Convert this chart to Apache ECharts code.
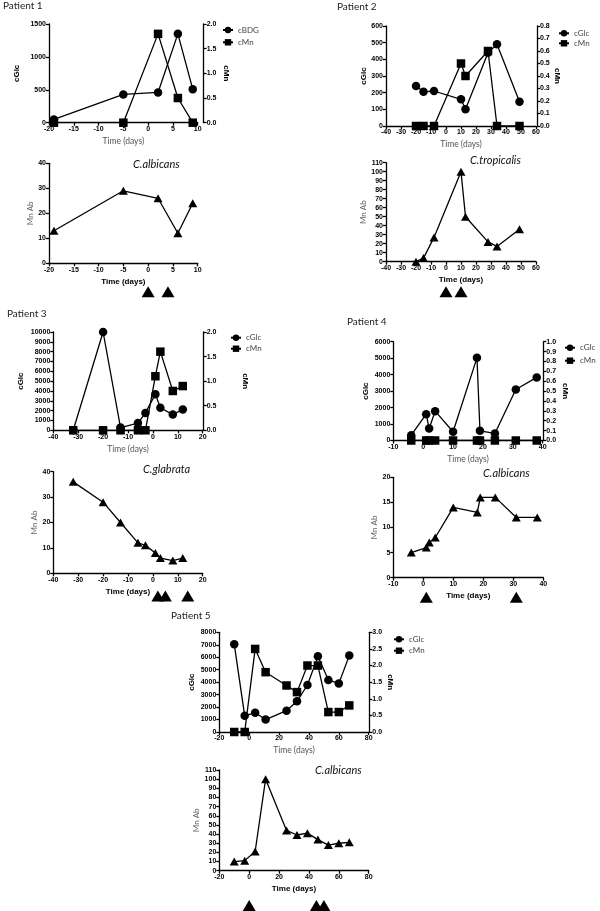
<!DOCTYPE html>
<html>
<head>
<meta charset="utf-8">
<script src="https://cdn.jsdelivr.net/npm/echarts@6/dist/echarts.min.js"></script>
<style>
  html, body { margin: 0; padding: 0; background: #fff; }
  #chart { width: 600px; height: 911px; }
</style>
</head>
<body>
<div id="chart"></div>
<script>
// days of sampling, serum values and antibody titres per patient
const p1Days = [-19, -5, 2, 6, 9];
const p1Glc = [50, 430, 460, 1350, 510];
const p1Mn = [0, 0, 1.8, 0.5, 0];
const p1Ab = [13, 29, 26, 12, 24];
const p1Tx = [0, 4];

const p2Days = [-20, -15, -8, 10, 13, 28, 34, 49];
const p2Glc = [240, 205, 210, 160, 100, 440, 490, 145];
const p2Mn = [0, 0, 0, 0.5, 0.4, 0.6, 0, 0];
const p2Ab = [0, 4, 27, 100, 50, 22, 17, 36];
const p2Tx = [0, 10];

const p3Days = [-32, -20, -13, -6, -3, 1, 3, 8, 12];
const p3Glc = [0, 10000, 280, 730, 1770, 3680, 2290, 1600, 2120];
const p3Mn = [0, 0, 0, 0, 0, 1.1, 1.6, 0.8, 0.9];
const p3Ab = [36, 28, 20, 12, 11, 8, 6, 5, 6];
const p3Tx = [2, 5, 14];

const p4Days = [-4, 1, 2, 4, 10, 18, 19, 24, 31, 38];
const p4Glc = [320, 1600, 730, 1780, 530, 5020, 590, 430, 3100, 3830];
const p4Mn = [0, 0, 0, 0, 0, 0, 0, 0, 0, 0];
const p4Ab = [5, 6, 7, 8, 14, 13, 16, 16, 12, 12];
const p4Tx = [1, 31];

const p5Days = [-10, -3, 4, 11, 25, 32, 39, 46, 53, 60, 67];
const p5Glc = [7050, 1300, 1550, 1000, 1710, 2460, 3770, 6070, 4170, 3900, 6130];
const p5Mn = [0, 0, 2.5, 1.8, 1.4, 1.2, 2.0, 2.0, 0.6, 0.6, 0.8];
const p5Ab = [10, 11, 21, 100, 44, 39, 41, 34, 28, 30, 31];
const p5Tx = [0, 45, 50];

const chart = echarts.init(document.getElementById("chart"));

const option = {
  animation: false,
  grid: [], xAxis: [], yAxis: [], series: [], legend: [], graphic: []
};

const tickFont = {fontSize: 7, fontWeight: "bold", color: "#000", fontFamily: "Liberation Sans"};
const axLine = {lineStyle: {color: "#000", width: 1.3}};
const axTick = {length: 3, lineStyle: {color: "#000", width: 1.3}};
const boldName = {fontSize: 8, fontWeight: "bold", color: "#000", fontFamily: "Liberation Sans"};
const greyName = {fontSize: 8.5, color: "#555", fontFamily: "Lato"};

function pairs(xs, ys) {
  return xs.map((x, i) => [x, ys[i]]);
}

function addGrid(l, t, w, h) {
  option.grid.push({left: l, top: t, width: w, height: h});
  return option.grid.length - 1;
}

function addX(g, min, max, step, name, bold) {
  option.xAxis.push({
    type: "value", gridIndex: g, min: min, max: max, interval: step,
    splitLine: {show: false},
    axisLine: {...axLine, onZero: false},
    axisTick: axTick,
    axisLabel: {...tickFont, margin: 3},
    name: name, nameLocation: "middle", nameGap: 14,
    nameTextStyle: bold ? boldName : greyName
  });
  return option.xAxis.length - 1;
}

function addY(g, min, max, step, opts) {
  const dec = opts.dec || 0;
  option.yAxis.push({
    type: "value", gridIndex: g, min: min, max: max, interval: step,
    position: opts.right ? "right" : "left",
    offset: opts.offset || 0,
    splitLine: {show: false},
    axisLine: {...axLine, onZero: false},
    axisTick: axTick,
    axisLabel: {...tickFont, margin: 3, formatter: v => v.toFixed(dec)},
    name: opts.name, nameLocation: "middle", nameGap: opts.gap,
    nameRotate: opts.right ? -90 : 90,
    nameTextStyle: opts.grey ? {fontSize: 8, color: "#666", fontFamily: "Lato"} : boldName
  });
  return option.yAxis.length - 1;
}

function addLine(name, xi, yi, data, symbol, size) {
  option.series.push({
    name: name, type: "line", xAxisIndex: xi, yAxisIndex: yi, data: data,
    symbol: symbol, symbolSize: size,
    itemStyle: {color: "#000", opacity: 1},
    lineStyle: {color: "#000", width: 1.3}
  });
}

function addText(text, left, top, font, fill) {
  option.graphic.push({type: "text", left: left, top: top, style: {text: text, font: font, fill: fill}});
}

// one patient block: dual-axis top chart, antibody chart, treatment marks
function patient(p) {
  const g1 = addGrid(p.top[0], p.top[1], p.top[2], p.top[3]);
  const x1 = addX(g1, p.xr[0], p.xr[1], p.xr[2], "Time (days)", false);
  const yl = addY(g1, 0, p.glcMax, p.glcStep, {name: "cGlc", gap: p.glcGap});
  const yr = addY(g1, 0, p.mnMax, p.mnStep, {name: "cMn", gap: p.mnGap, right: true, offset: p.rOff, dec: 1});
  addLine(p.glcName, x1, yl, pairs(p.days, p.glc), "circle", 8.5);
  addLine("cMn", x1, yr, pairs(p.days, p.mn), "rect", 8.5);

  option.legend.push({
    data: [p.glcName, "cMn"], orient: "vertical", left: p.leg[0], top: p.leg[1],
    itemWidth: 10, itemHeight: 8, itemGap: p.leg[2], padding: 0, selectedMode: false,
    textStyle: {fontSize: 8, color: "#444", fontFamily: "Lato"}
  });

  const g2 = addGrid(p.bot[0], p.bot[1], p.bot[2], p.bot[3]);
  const x2 = addX(g2, p.xr[0], p.xr[1], p.xr[2], "Time (days)", true);
  const y2 = addY(g2, 0, p.abMax, p.abStep, {name: "Mn Ab", gap: p.abGap, grey: true});
  addLine("Mn Ab", x2, y2, pairs(p.days, p.ab), "triangle", [9, 8]);

  const g3 = addGrid(p.bot[0], p.tx - 6, p.bot[2], 12);
  option.xAxis.push({type: "value", gridIndex: g3, min: p.xr[0], max: p.xr[1], show: false});
  option.yAxis.push({type: "value", gridIndex: g3, min: 0, max: 1, show: false});
  option.series.push({
    type: "scatter", xAxisIndex: option.xAxis.length - 1, yAxisIndex: option.yAxis.length - 1,
    data: p.txDays.map(d => [d, 0.5]), symbol: "triangle", symbolSize: [13, 11],
    itemStyle: {color: "#000", opacity: 1}
  });

  addText(p.title, p.titlePos[0], p.titlePos[1], "10px Lato", "#222");
  addText(p.species, p.spPos[0], p.spPos[1], "italic 11px Lato", "#111");
}

patient({
  days: p1Days, glc: p1Glc, mn: p1Mn, ab: p1Ab, txDays: p1Tx, glcName: "cBDG",
  top: [49, 24, 148.7, 98.7], bot: [49, 163.3, 148.7, 100], tx: 291.7, rOff: 6,
  xr: [-20, 10, 5], glcMax: 1500, glcStep: 500, mnMax: 2, mnStep: 0.5, abMax: 40, abStep: 10,
  glcGap: 28, mnGap: 19, abGap: 13, leg: [222, 26, 4.3],
  title: "Patient 1", titlePos: [3, 1], species: "C.albicans", spPos: [133, 158.5]
});

patient({
  days: p2Days, glc: p2Glc, mn: p2Mn, ab: p2Ab, txDays: p2Tx, glcName: "cGlc",
  top: [386, 26, 150, 100], bot: [386, 162.7, 150, 99], tx: 291.7, rOff: 1,
  xr: [-40, 60, 10], glcMax: 600, glcStep: 100, mnMax: 0.8, mnStep: 0.1, abMax: 110, abStep: 10,
  glcGap: 12, mnGap: 10, abGap: 19, leg: [558, 29.3, 2],
  title: "Patient 2", titlePos: [337, 1.5], species: "C.tropicalis", spPos: [470, 155]
});

patient({
  days: p3Days, glc: p3Glc, mn: p3Mn, ab: p3Ab, txDays: p3Tx, glcName: "cGlc",
  top: [53.3, 332, 149.4, 98.3], bot: [53.3, 471.7, 149.4, 101.6], tx: 596, rOff: 1,
  xr: [-40, 20, 10], glcMax: 10000, glcStep: 1000, mnMax: 2, mnStep: 0.5, abMax: 40, abStep: 10,
  glcGap: 29, mnGap: 38, abGap: 12, leg: [230, 333.7, 3],
  title: "Patient 3", titlePos: [7, 309], species: "C.glabrata", spPos: [143, 463.5]
});

patient({
  days: p4Days, glc: p4Glc, mn: p4Mn, ab: p4Ab, txDays: p4Tx, glcName: "cGlc",
  top: [393.3, 341.7, 149.4, 98.8], bot: [393.3, 477.3, 150, 100.4], tx: 597.3, rOff: 0.6,
  xr: [-10, 40, 10], glcMax: 6000, glcStep: 1000, mnMax: 1, mnStep: 0.1, abMax: 20, abStep: 5,
  glcGap: 24, mnGap: 18, abGap: 14, leg: [564, 343.7, 5],
  title: "Patient 4", titlePos: [347, 317], species: "C.albicans", spPos: [483, 467.5]
});

patient({
  days: p5Days, glc: p5Glc, mn: p5Mn, ab: p5Ab, txDays: p5Tx, glcName: "cGlc",
  top: [219.3, 632.3, 149.4, 99.7], bot: [219.3, 770, 149.4, 100.7], tx: 906, rOff: 0.6,
  xr: [-20, 80, 20], glcMax: 8000, glcStep: 1000, mnMax: 3, mnStep: 0.5, abMax: 110, abStep: 10,
  glcGap: 24, mnGap: 15, abGap: 19, leg: [393, 635.3, 3.4],
  title: "Patient 5", titlePos: [171, 611], species: "C.albicans", spPos: [315, 765]
});

chart.setOption(option);
</script>
</body>
</html>
